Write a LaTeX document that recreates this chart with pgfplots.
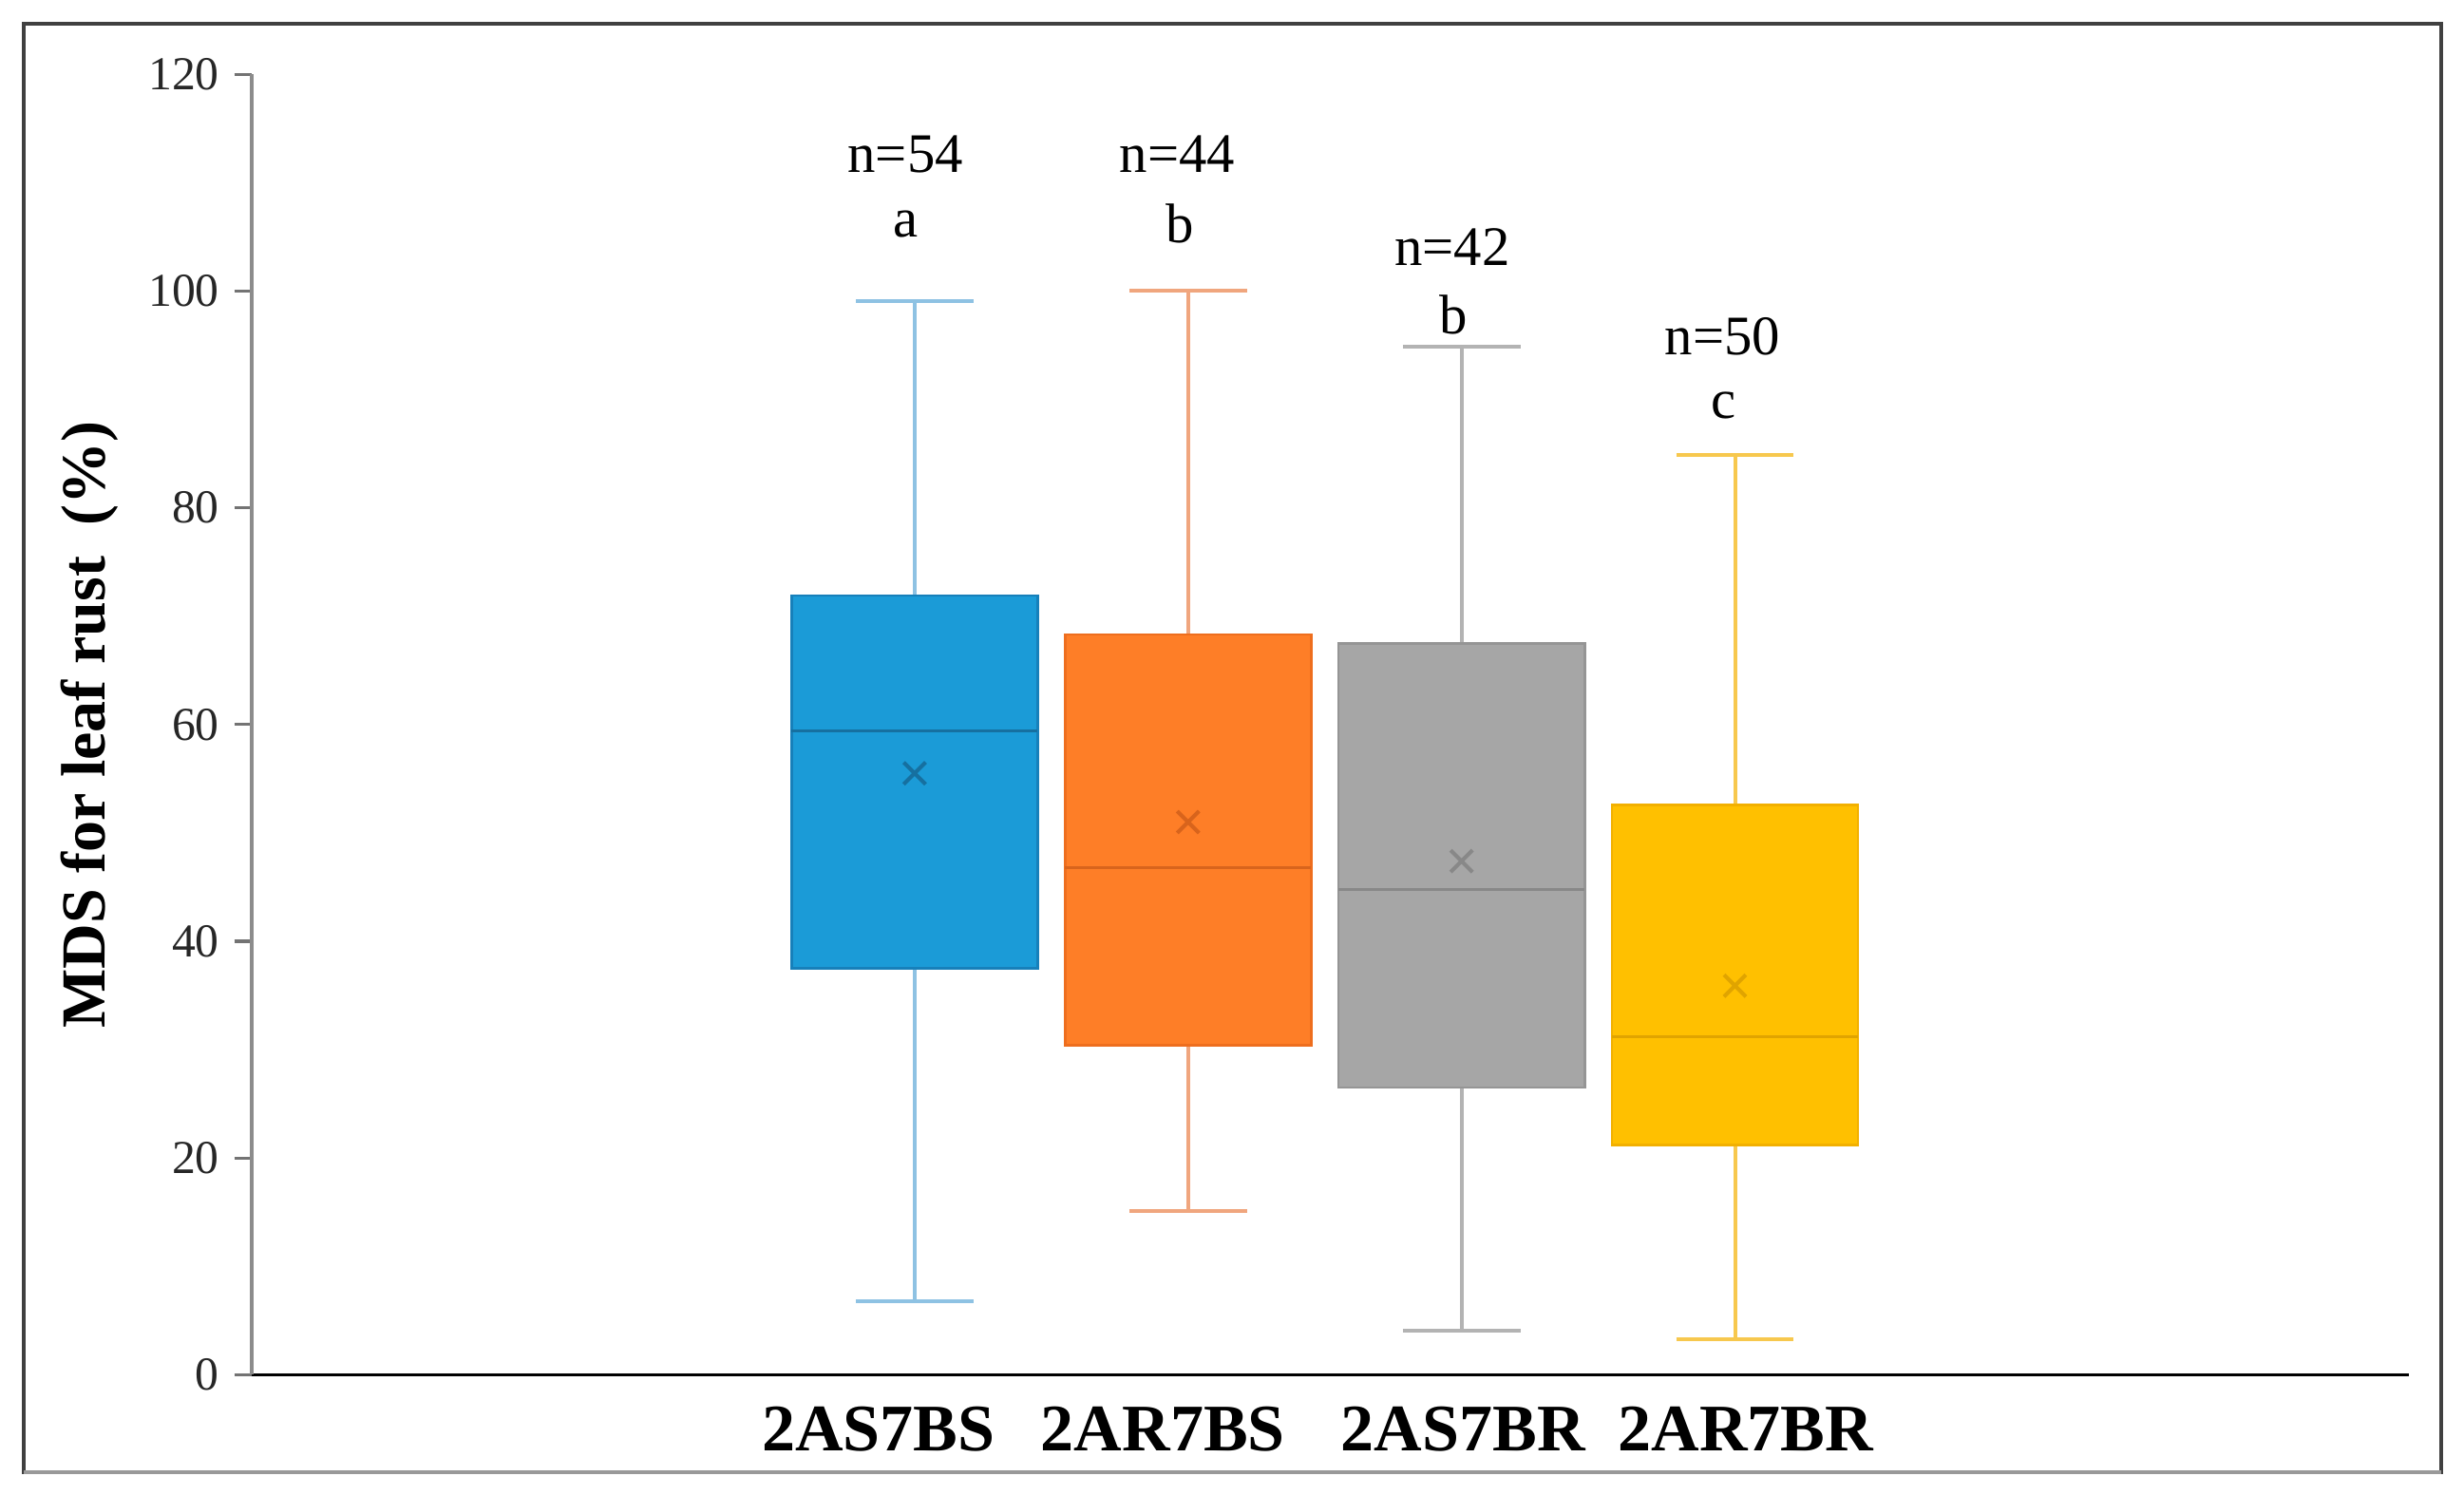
\documentclass[border=0pt]{standalone}
\usepackage{fontspec}
\setmainfont{Liberation Serif}
\usepackage{pgfplots}
\pgfplotsset{compat=1.18}
\usepgfplotslibrary{statistics}
\definecolor{cA}{HTML}{1B9BD7}
\definecolor{cAd}{HTML}{1780BA}
\definecolor{cAw}{HTML}{8EC2E3}
\definecolor{cAm}{HTML}{1670A0}
\definecolor{cB}{HTML}{FE7E27}
\definecolor{cBd}{HTML}{EE6E1E}
\definecolor{cBw}{HTML}{F0A67E}
\definecolor{cBm}{HTML}{D8641C}
\definecolor{cC}{HTML}{A6A6A6}
\definecolor{cCd}{HTML}{959595}
\definecolor{cCw}{HTML}{B3B3B3}
\definecolor{cCm}{HTML}{888888}
\definecolor{cD}{HTML}{FFC000}
\definecolor{cDd}{HTML}{F2B000}
\definecolor{cDw}{HTML}{F7C84E}
\definecolor{cDm}{HTML}{E0A400}
\begin{document}
\begin{tikzpicture}
\begin{axis}[
  scale only axis, width=502.6pt, height=303pt,
  xmin=-1.425, xmax=6.465, ymin=0, ymax=120,
  axis lines*=left,
  x axis line style={black, line width=0.8pt},
  y axis line style={black!45, line width=0.8pt},
  ytick={0,20,...,120},
  tick align=outside,
  major tick length=4pt,
  ytick style={black!55, line width=0.7pt},
  xtick={0.868,1.908,3.006,4.040},
  xticklabels={2AS7BS,2AR7BS,2AS7BR,2AR7BR},
  xtick style={draw=none},
  xticklabel style={font=\bfseries\fontsize{15.5}{18}\selectfont, text=black},
  yticklabel style={font=\fontsize{11}{13}\selectfont, text=black!85},
  /pgf/number format/assume math mode=true,
  every axis y label/.style={at={(axis description cs:-0.075,0.5)}, rotate=90, anchor=center},
  ylabel={MDS for leaf rust\ \ (\%)},
  ylabel style={font=\bfseries\fontsize{14.6}{17}\selectfont},
  boxplot/draw direction=y,
  clip=false,
]
\coordinate (O) at (rel axis cs:0,0);
% 2AS7BS
\addplot[boxplot prepared={draw position=1, median=59.4, upper quartile=71.9, lower quartile=37.5, upper whisker=99.1, lower whisker=6.8},
  boxplot/box extend=0.9, boxplot/whisker extend=0.43,
  boxplot/every box/.style={draw=cAd, fill=cA, line width=0.6pt},
  boxplot/every whisker/.style={draw=cAw, line width=0.9pt},
  boxplot/every median/.style={draw=cAm, line width=0.6pt},
  draw=cA, solid] coordinates {};
% 2AR7BS
\addplot[boxplot prepared={draw position=2, median=46.8, upper quartile=68.3, lower quartile=30.4, upper whisker=100, lower whisker=15.1},
  boxplot/box extend=0.9, boxplot/whisker extend=0.43,
  boxplot/every box/.style={draw=cBd, fill=cB, line width=0.6pt},
  boxplot/every whisker/.style={draw=cBw, line width=0.9pt},
  boxplot/every median/.style={draw=cBm, line width=0.6pt},
  draw=cB, solid] coordinates {};
% 2AS7BR
\addplot[boxplot prepared={draw position=3, median=44.8, upper quartile=67.5, lower quartile=26.5, upper whisker=94.9, lower whisker=4.1},
  boxplot/box extend=0.9, boxplot/whisker extend=0.43,
  boxplot/every box/.style={draw=cCd, fill=cC, line width=0.6pt},
  boxplot/every whisker/.style={draw=cCw, line width=0.9pt},
  boxplot/every median/.style={draw=cCm, line width=0.6pt},
  draw=cC, solid] coordinates {};
% 2AR7BR
\addplot[boxplot prepared={draw position=4, median=31.2, upper quartile=52.6, lower quartile=21.2, upper whisker=84.9, lower whisker=3.3},
  boxplot/box extend=0.9, boxplot/whisker extend=0.43,
  boxplot/every box/.style={draw=cDd, fill=cD, line width=0.6pt},
  boxplot/every whisker/.style={draw=cDw, line width=0.9pt},
  boxplot/every median/.style={draw=cDm, line width=0.6pt},
  draw=cD, solid] coordinates {};
% means
\addplot[only marks, mark=x, mark size=3.6pt, mark options={draw=cAm, line width=0.9pt}] coordinates {(1,55.5)};
\addplot[only marks, mark=x, mark size=3.6pt, mark options={draw=cBm, line width=0.9pt}] coordinates {(2,51.0)};
\addplot[only marks, mark=x, mark size=3.6pt, mark options={draw=cCm, line width=0.9pt}] coordinates {(3,47.4)};
\addplot[only marks, mark=x, mark size=3.6pt, mark options={draw=cDm, line width=0.9pt}] coordinates {(4,35.9)};
% annotations
\begin{scope}[every node/.style={font=\fontsize{13}{15}\selectfont, text=black}]
\node at (axis cs:0.966,112.6) {n=54};
\node at (axis cs:0.966,106.2) {a};
\node at (axis cs:1.960,112.6) {n=44};
\node at (axis cs:1.971,106.2) {b};
\node at (axis cs:2.966,104.1) {n=42};
\node at (axis cs:2.971,97.8) {b};
\node at (axis cs:3.954,95.8) {n=50};
\node at (axis cs:3.960,89.4) {c};
\end{scope}
\end{axis}
\draw[black!75, line width=0.9pt] ([shift={(-53pt,-22.7pt)}]O) rectangle ([shift={(510pt,314.8pt)}]O);
\draw[black!40, line width=0.9pt] ([shift={(-53pt,-22.7pt)}]O) -- ([shift={(510pt,-22.7pt)}]O);
\path ([shift={(-58.6pt,-27.8pt)}]O) rectangle ([shift={(515.4pt,320.3pt)}]O);
\end{tikzpicture}
\end{document}
